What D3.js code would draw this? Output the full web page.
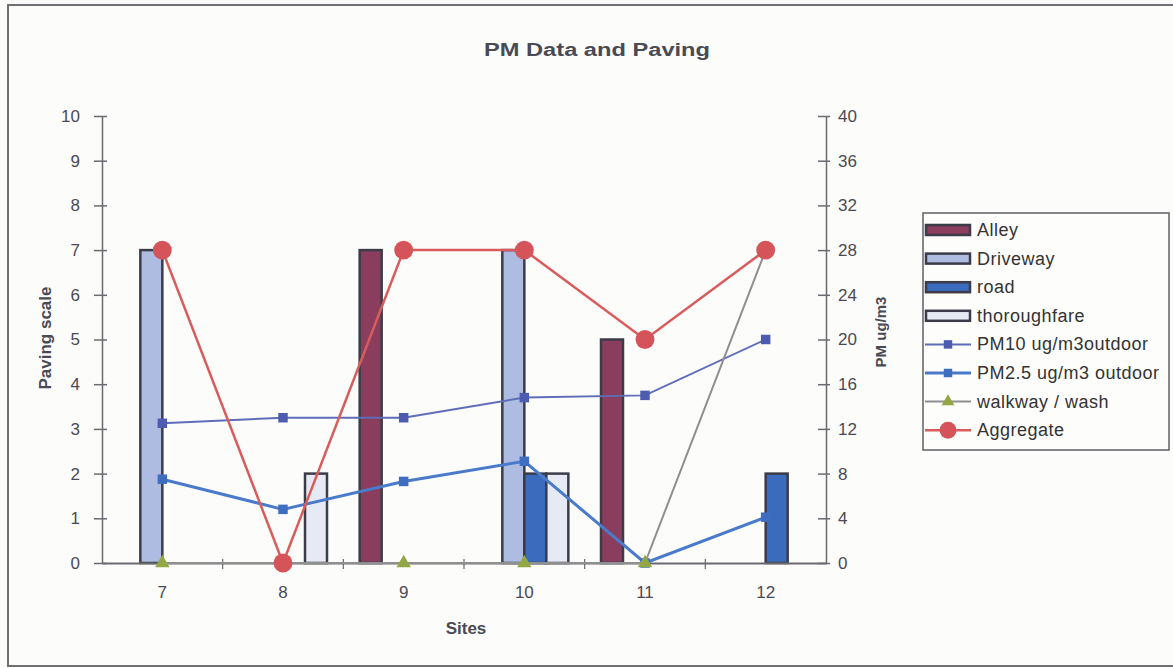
<!DOCTYPE html>
<html>
<head>
<meta charset="utf-8">
<script src="https://cdn.jsdelivr.net/npm/d3@7"></script>
<style>
  body { margin: 0; background: #fbfbf9; }
  svg text { font-family: "Liberation Sans", Arial, sans-serif; fill: #4a4a55; }
</style>
</head>
<body>
<svg width="1173" height="668"></svg>
<script>
const svg = d3.select("svg");

// Data
const sites = ["7", "8", "9", "10", "11", "12"];
const alley = [0, 0, 7, 0, 5, 0];
const driveway = [7, 0, 0, 7, 0, 0];
const road = [0, 0, 0, 2, 0, 2];
const thoroughfare = [0, 2, 0, 2, 0, 0];
const pm10 = [12.5, 13.0, 13.0, 14.8, 15.0, 20.0];
const pm25 = [7.5, 4.8, 7.3, 9.1, 0, 4.1];
const walkway = [0, 0, 0, 0, 0, 28];
const aggregate = [28, 0, 28, 28, 20, 28];
const leftTicks = [0, 1, 2, 3, 4, 5, 6, 7, 8, 9, 10];
const rightTicks = [0, 4, 8, 12, 16, 20, 24, 28, 32, 36, 40];

const barSeries = [
    { name: "Alley", values: alley, fill: "#8a3d5c" },
    { name: "Driveway", values: driveway, fill: "#aebce2" },
    { name: "road", values: road, fill: "#3b6bbd" },
    { name: "thoroughfare", values: thoroughfare, fill: "#e6eaf4" }
];
const lineSeries = [
    { name: "PM10 ug/m3outdoor", values: pm10, stroke: "#5f6cb8", width: 2, marker: "square", mfill: "#4d5cb0" },
    { name: "PM2.5 ug/m3 outdoor", values: pm25, stroke: "#4a7bcb", width: 3, marker: "square", mfill: "#3f6ec0" },
    { name: "walkway / wash", values: walkway, stroke: "#8f8f8f", width: 2, marker: "triangle", mfill: "#93a845" },
    { name: "Aggregate", values: aggregate, stroke: "#d95c5c", width: 2.5, marker: "circle", mfill: "#d4545a" }
];

const plot = { left: 102, right: 826, top: 116, bottom: 563 };

// outer frame
svg.append("rect")
    .attr("x", 8).attr("y", 5)
    .attr("width", 1175).attr("height", 661)
    .attr("fill", "#fcfcfa")
    .attr("stroke", "#6f6f74").attr("stroke-width", 2);

const x0 = d3.scaleBand().domain(sites).range([plot.left, plot.right]);
const x1 = d3.scaleBand().domain(barSeries.map(d => d.name))
    .range([x0.bandwidth() / 2 - 44, x0.bandwidth() / 2 + 44]);
const yL = d3.scaleLinear().domain([0, 10]).range([plot.bottom, plot.top]);
const yR = d3.scaleLinear().domain([0, 40]).range([plot.bottom, plot.top]);
const cx = s => x0(s) + x0.bandwidth() / 2;

// title
svg.append("text")
    .attr("x", 597).attr("y", 56)
    .attr("text-anchor", "middle")
    .attr("font-size", 18).attr("font-weight", "bold")
    .attr("textLength", 226).attr("lengthAdjust", "spacingAndGlyphs")
    .text("PM Data and Paving");

// left axis
const gL = svg.append("g")
    .attr("transform", `translate(${plot.left},0)`)
    .call(d3.axisLeft(yL).tickValues(leftTicks).tickSizeInner(8).tickSizeOuter(0).tickPadding(14));
gL.selectAll(".tick line").attr("x1", 5);
gL.selectAll("text").attr("font-size", 17).attr("font-family", null).style("fill", "#4a4a55");
gL.selectAll("line, path").attr("stroke", "#6a6a70").attr("stroke-width", 1.5);

// right axis
const gR = svg.append("g")
    .attr("transform", `translate(${plot.right},0)`)
    .call(d3.axisRight(yR).tickValues(rightTicks).tickSizeInner(4).tickSizeOuter(0).tickPadding(8));
gR.selectAll(".tick line").attr("x1", -8);
gR.selectAll("text").attr("font-size", 17).attr("font-family", null).style("fill", "#4a4a55");
gR.selectAll("line, path").attr("stroke", "#6a6a70").attr("stroke-width", 1.5);

// bars
barSeries.forEach(s => {
    svg.append("g").selectAll("rect")
        .data(sites.map((site, i) => ({ site, v: s.values[i] })).filter(d => d.v > 0))
        .enter().append("rect")
        .attr("x", d => x0(d.site) + x1(s.name))
        .attr("y", d => yL(d.v))
        .attr("width", x1.bandwidth())
        .attr("height", d => yL(0) - yL(d.v))
        .attr("fill", s.fill)
        .attr("stroke", "#3c3c48")
        .attr("stroke-width", 2.5);
});

// x axis
const gX = svg.append("g")
    .attr("transform", `translate(0,${plot.bottom})`)
    .call(d3.axisBottom(x0).tickSize(0).tickPadding(23));
gX.selectAll("text").attr("font-size", 17).attr("font-family", null).style("fill", "#4a4a55");
gX.select(".domain").attr("stroke", "#6a6a70").attr("stroke-width", 2);
gX.selectAll(".sep")
    .data(sites.slice(1))
    .enter().append("line")
    .attr("x1", d => x0(d)).attr("x2", d => x0(d))
    .attr("y1", -4).attr("y2", 6)
    .attr("stroke", "#6a6a70").attr("stroke-width", 1.2);

// axis titles
svg.append("text")
    .attr("x", 466).attr("y", 634)
    .attr("text-anchor", "middle")
    .attr("font-size", 17).attr("font-weight", "bold")
    .text("Sites");
svg.append("text")
    .attr("transform", "translate(51,338) rotate(-90)")
    .attr("text-anchor", "middle")
    .attr("font-size", 17).attr("font-weight", "bold")
    .text("Paving scale");
svg.append("text")
    .attr("transform", "translate(886,332) rotate(-90)")
    .attr("text-anchor", "middle")
    .attr("font-size", 15).attr("font-weight", "bold")
    .text("PM ug/m3");

const symbolOf = m => m === "square" ? d3.symbolSquare : m === "triangle" ? d3.symbolTriangle : d3.symbolCircle;
const sizeOf = m => m === "square" ? 90 : m === "triangle" ? 90 : 280;

// lines
lineSeries.forEach(s => {
    const pts = sites.map((site, i) => ({ site, v: s.values[i] }));
    svg.append("path")
        .datum(pts)
        .attr("fill", "none")
        .attr("stroke", s.stroke)
        .attr("stroke-width", s.width)
        .attr("d", d3.line().x(d => cx(d.site)).y(d => yR(d.v)));
    svg.append("g").selectAll("path")
        .data(pts)
        .enter().append("path")
        .attr("transform", d => `translate(${cx(d.site)},${yR(d.v)})`)
        .attr("d", d3.symbol().type(symbolOf(s.marker)).size(sizeOf(s.marker)))
        .attr("fill", s.mfill);
});

// legend
const lg = svg.append("g").attr("transform", "translate(923,213)");
lg.append("rect")
    .attr("width", 246).attr("height", 237)
    .attr("fill", "#fdfdfc")
    .attr("stroke", "#5f5f66").attr("stroke-width", 1.5);
const rowY = i => 17 + i * 28.6;
barSeries.forEach((s, i) => {
    lg.append("rect")
        .attr("x", 3).attr("y", rowY(i) - 5)
        .attr("width", 44).attr("height", 10)
        .attr("fill", s.fill)
        .attr("stroke", "#3c3c48").attr("stroke-width", 2.5);
    lg.append("text")
        .attr("x", 54).attr("y", rowY(i) + 6)
        .attr("font-size", 18).attr("letter-spacing", 0.5).style("fill", "#333")
        .text(s.name);
});
lineSeries.forEach((s, j) => {
    const i = j + barSeries.length;
    lg.append("line")
        .attr("x1", 2).attr("x2", 48)
        .attr("y1", rowY(i)).attr("y2", rowY(i))
        .attr("stroke", s.stroke).attr("stroke-width", s.width);
    lg.append("path")
        .attr("transform", `translate(25,${rowY(i)})`)
        .attr("d", d3.symbol().type(symbolOf(s.marker)).size(sizeOf(s.marker) * 0.8))
        .attr("fill", s.mfill);
    lg.append("text")
        .attr("x", 54).attr("y", rowY(i) + 6)
        .attr("font-size", 18).attr("letter-spacing", 0.5).style("fill", "#333")
        .text(s.name);
});
</script>
</body>
</html>
